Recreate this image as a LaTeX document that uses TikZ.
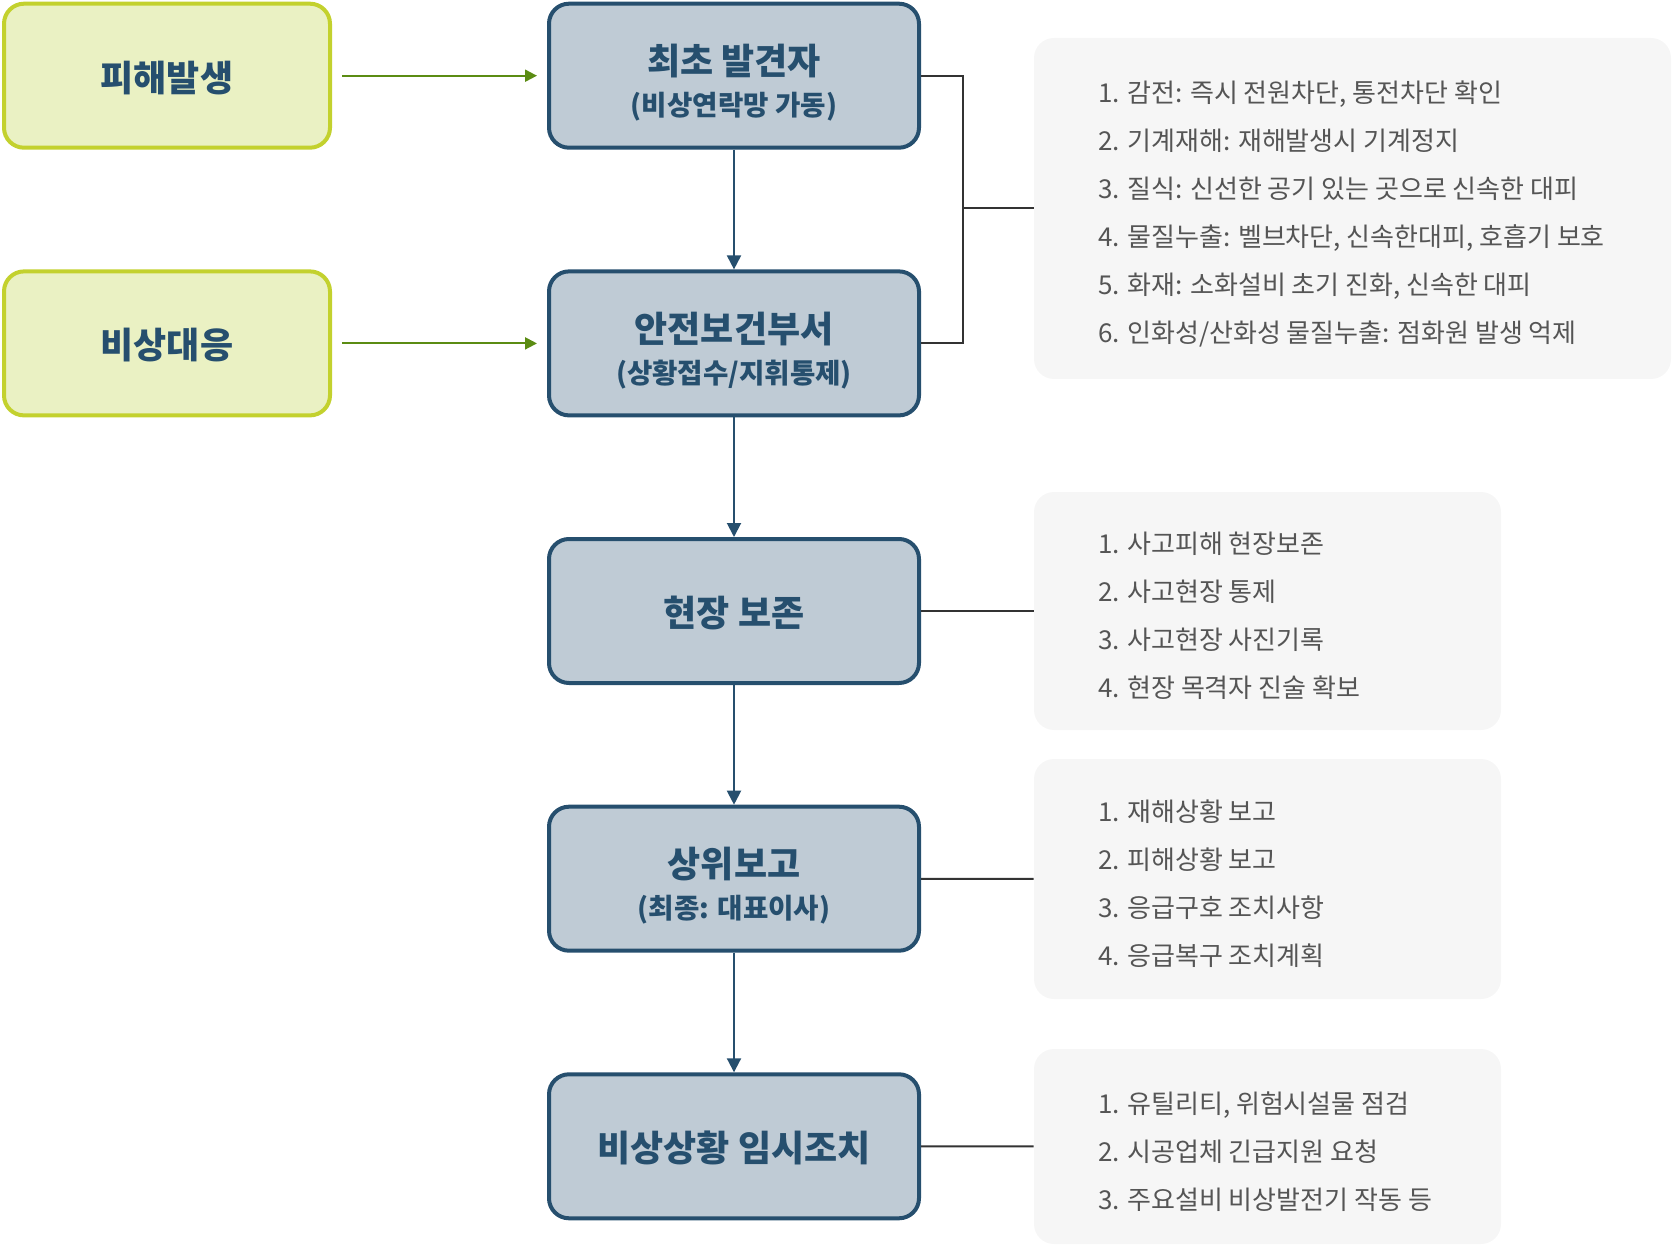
\documentclass[tikz,border=0pt]{standalone}
\usepackage{fontspec}
\usepackage{tikz}
\usetikzlibrary{arrows.meta,calc}
\setmainfont{Noto Sans CJK KR}
\definecolor{flowblue}{HTML}{264F6E}
\definecolor{boxblue}{HTML}{BFCBD5}
\definecolor{leaffill}{HTML}{EAF1C3}
\definecolor{leafedge}{HTML}{C3D12E}
\definecolor{leafarrow}{HTML}{5B8C13}
\definecolor{panelgray}{HTML}{F6F6F6}
\definecolor{notegray}{HTML}{555555}
\definecolor{tiegray}{HTML}{333333}
\newcommand{\subline}[1]{{\fontsize{13.8}{16}\selectfont #1}}

\begin{document}
\begin{tikzpicture}[x=0.5pt,y=0.5pt,yscale=-1,xscale=1,
    greenbox/.style={draw=leafedge,fill=leaffill,line width=2pt,rounded corners=10pt,
        minimum width=163pt,minimum height=72pt,inner sep=0pt},
    bluebox/.style={draw=flowblue,fill=boxblue,line width=2pt,rounded corners=10pt,
        minimum width=185pt,minimum height=72pt,inner sep=0pt},
    boxtext/.style={align=center,inner sep=0pt,text=flowblue,
        font=\fontsize{18}{20.5}\selectfont\bfseries},
    panel/.style={fill=panelgray,rounded corners=10pt,inner sep=0pt},
    notes/.style={anchor=west,align=left,inner sep=0pt,text=notegray,
        font=\fontsize{13}{24}\selectfont},
    flow/.style={draw=flowblue,line width=1pt,-{Triangle[length=7pt,width=7pt]}},
    feed/.style={draw=leafarrow,line width=1pt,-{Triangle[length=6pt,width=6pt]},
        shorten <=5pt,shorten >=5pt},
    tie/.style={draw=tiegray,line width=1pt}]
    \useasboundingbox (0,0) rectangle (1672,1246);
    % Left boxes
    \node [greenbox] (damage) at (167,75.7) {};
    \node [greenbox] (respond) at (167,343.4) {};
    \node [boxtext] (damagetext) at ([yshift=1pt]damage.center) {피해발생};
    \node [boxtext] (respondtext) at ([yshift=1pt]respond.center) {비상대응};
    % Main flow
    \node [bluebox] (finder) at (734,75.7) {};
    \node [bluebox] (safety) at (734,343.4) {};
    \node [bluebox] (scene) at (734,611) {};
    \node [bluebox] (report) at (734,878.7) {};
    \node [bluebox] (measure) at (734,1146.3) {};
    \node [boxtext] (findertext) at ([yshift=3.5pt]finder.center) {최초 발견자\\\subline{(비상연락망 가동)}};
    \node [boxtext] (safetytext) at ([yshift=3.5pt]safety.center) {안전보건부서\\\subline{(상황접수/지휘통제)}};
    \node [boxtext] (scenetext) at ([yshift=1pt]scene.center) {현장 보존};
    \node [boxtext] (reporttext) at ([yshift=3.5pt]report.center) {상위보고\\\subline{(최종: 대표이사)}};
    \node [boxtext] (measuretext) at ([yshift=1pt]measure.center) {비상상황 임시조치};
    % Note panels
    \node [panel,minimum width=318.5pt,minimum height=170.5pt] (hazard) at (1352.5,208.5) {};
    \node [panel,minimum width=233.5pt,minimum height=119pt] (scenenote) at (1267.5,611) {};
    \node [panel,minimum width=233.5pt,minimum height=120pt] (reportnote) at (1267.5,879) {};
    \node [panel,minimum width=233.5pt,minimum height=97.5pt] (measurenote) at (1267.5,1146.5) {};
    % Text Node
    \node [notes] (hazardlist) at ([xshift=32pt,yshift=2.5pt]hazard.west) {1. 감전: 즉시 전원차단, 통전차단 확인\\2. 기계재해: 재해발생시 기계정지\\3. 질식: 신선한 공기 있는 곳으로 신속한 대피\\4. 물질누출: 벨브차단, 신속한대피, 호흡기 보호\\5. 화재: 소화설비 초기 진화, 신속한 대피\\6. 인화성/산화성 물질누출: 점화원 발생 억제};
    \node [notes] (scenelist) at ([xshift=32pt,yshift=2.5pt]scenenote.west) {1. 사고피해 현장보존\\2. 사고현장 통제\\3. 사고현장 사진기록\\4. 현장 목격자 진술 확보};
    \node [notes] (reportlist) at ([xshift=32pt,yshift=2.5pt]reportnote.west) {1. 재해상황 보고\\2. 피해상황 보고\\3. 응급구호 조치사항\\4. 응급복구 조치계획};
    \node [notes] (measurelist) at ([xshift=32pt,yshift=2.5pt]measurenote.west) {1. 유틸리티, 위험시설물 점검\\2. 시공업체 긴급지원 요청\\3. 주요설비 비상발전기 작동 등};
    % Arrows
    \draw [feed] (damage) -- (finder);
    \draw [feed] (respond) -- (safety);
    \draw [flow] (finder) -- (safety);
    \draw [flow] (safety) -- (scene);
    \draw [flow] (scene) -- (report);
    \draw [flow] (report) -- (measure);
    % Straight Lines
    \coordinate (joint) at (963,208.5);
    \draw [tie] (finder.east) -| (joint) |- (safety.east);
    \draw [tie] (joint) -- (hazard.west);
    \draw [tie] (scene) -- (scenenote);
    \draw [tie] (report) -- (reportnote);
    \draw [tie] (measure) -- (measurenote);
\end{tikzpicture}
\end{document}
